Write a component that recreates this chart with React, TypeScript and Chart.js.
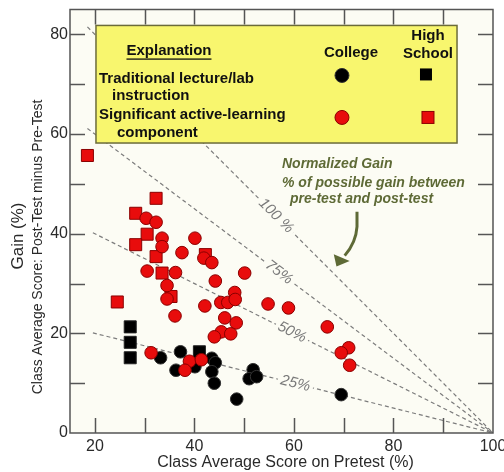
import React, { useEffect, useRef } from "react";
import { Chart, registerables } from "chart.js";

Chart.register(...registerables);

// ---------- data ----------
const collegeTraditional: [number, number][] = [
  [33.2, 15.1], [37.2, 16.3], [36.3, 12.6], [40.1, 13.3], [43.5, 15.0],
  [44.2, 14.1], [43.5, 12.3], [44.0, 10.0], [48.5, 6.8], [51.8, 12.7],
  [51.0, 10.9], [52.5, 11.3], [69.5, 7.7],
];
const highSchoolTraditional: [number, number][] = [
  [27.1, 21.3], [27.1, 18.2], [27.1, 15.1], [41.0, 16.3],
];
const collegeActive: [number, number][] = [
  [30.3, 43.1], [32.3, 42.3], [33.5, 39.1], [40.1, 39.1], [33.5, 37.4],
  [37.5, 36.2], [41.9, 35.1], [43.5, 34.2], [30.5, 32.5], [36.2, 32.2],
  [50.1, 32.1], [34.5, 29.6], [44.2, 30.5], [34.5, 26.9], [36.1, 23.5],
  [42.1, 25.5], [45.3, 26.2], [46.7, 26.2], [48.1, 28.2], [48.2, 26.8],
  [54.8, 25.9], [58.9, 25.1], [46.1, 23.1], [48.4, 22.1], [45.4, 20.3],
  [47.3, 19.9], [44.0, 19.3], [66.7, 21.3], [71.0, 17.1], [69.5, 16.1],
  [71.2, 13.6], [31.3, 16.1], [39.0, 14.4], [41.4, 14.7], [38.1, 12.6],
];
const highSchoolActive: [number, number][] = [
  [18.5, 55.7], [32.3, 47.1], [28.2, 44.1], [30.5, 39.9], [28.2, 37.8],
  [32.3, 35.4], [42.2, 35.8], [33.5, 32.1], [35.3, 27.4], [24.5, 26.3],
];

const xTicks = [20, 30, 40, 50, 60, 70, 80, 90];
const xLabels = [20, 40, 60, 80, 100];
const yTicks = [10, 20, 30, 40, 50, 60, 70, 80];
const yLabels = [0, 20, 40, 60, 80];

const gainLevels = [1, 0.75, 0.5, 0.25];
const gainLabels = ["100 %", "75%", "50%", "25%"];
const lineStartX = [18.5, 18.5, 19.6, 19.6];
const labelX = [56.4, 57, 59.6, 60.3];

const X_MIN = 15;
const X_MAX = 100;
const Y_MIN = 0;
const Y_MAX = 85;

// ---------- styles ----------
const FONT = "'Liberation Sans', Arial, sans-serif";
const PLOT_BG = "#fcfcf4";
const AXIS = "#555555";
const RED = "#e80c0c";
const RED_BORDER = "#8a0000";
const OLIVE = "#5e6a36";
const LEGEND_BG = "#f8f66e";

const toPts = (arr: [number, number][]) => arr.map(([x, y]) => ({ x, y }));

const customPlugin = {
  id: "custom",
  beforeDraw(chart: any) {
    const { ctx, chartArea: a } = chart;
    ctx.save();
    ctx.fillStyle = "#ffffff";
    ctx.fillRect(0, 0, chart.width, chart.height);
    ctx.fillStyle = PLOT_BG;
    ctx.fillRect(a.left, a.top, a.right - a.left, a.bottom - a.top);
    ctx.restore();
  },
  afterDatasetsDraw(chart: any) {
    const { ctx } = chart;
    const xs = chart.scales.x;
    const ys = chart.scales.y;
    const X = (v: number) => xs.getPixelForValue(v);
    const Y = (v: number) => ys.getPixelForValue(v);

    // labels on normalized gain lines
    ctx.save();
    ctx.font = `italic 15px ${FONT}`;
    gainLevels.forEach((g, i) => {
      const lx = labelX[i];
      const px = X(lx);
      const py = Y(g * (100 - lx));
      const ang = Math.atan2(Y(0) - py, X(100) - px);
      const w = ctx.measureText(gainLabels[i]).width;
      ctx.save();
      ctx.translate(px, py);
      ctx.rotate(ang);
      ctx.fillStyle = PLOT_BG;
      ctx.fillRect(-w / 2 - 3, -8, w + 6, 16);
      ctx.fillStyle = "#7a7a7a";
      ctx.textAlign = "center";
      ctx.textBaseline = "middle";
      ctx.fillText(gainLabels[i], 0, 0);
      ctx.restore();
    });
    ctx.restore();

    // legend box
    const bl = X(20.22), br = X(92.77), bt = Y(81.8), bb = Y(58.2);
    ctx.save();
    ctx.fillStyle = LEGEND_BG;
    ctx.fillRect(bl, bt, br - bl, bb - bt);
    ctx.strokeStyle = "#6b6b3a";
    ctx.lineWidth = 1.5;
    ctx.strokeRect(bl, bt, br - bl, bb - bt);

    ctx.fillStyle = "#111111";
    ctx.textBaseline = "middle";
    ctx.font = `bold 15px ${FONT}`;
    ctx.textAlign = "center";
    ctx.fillText("Explanation", bl + 73, bt + 25);
    const ew = ctx.measureText("Explanation").width;
    ctx.fillRect(bl + 73 - ew / 2, bt + 33, ew, 1.3);
    ctx.fillText("College", bl + 255, bt + 27);
    ctx.fillText("High", bl + 332, bt + 10);
    ctx.fillText("School", bl + 332, bt + 28);
    ctx.textAlign = "left";
    ctx.fillText("Traditional lecture/lab", bl + 3, bt + 53);
    ctx.fillText("instruction", bl + 16, bt + 70);
    ctx.fillText("Significant active-learning", bl + 3, bt + 89);
    ctx.fillText("component", bl + 21, bt + 107);

    // legend markers
    ctx.lineWidth = 1;
    ctx.beginPath();
    ctx.arc(bl + 246, bt + 50, 7, 0, Math.PI * 2);
    ctx.fillStyle = "#000000";
    ctx.fill();
    ctx.strokeStyle = "#333333";
    ctx.stroke();
    ctx.fillRect(bl + 324, bt + 43, 12, 12);
    ctx.beginPath();
    ctx.arc(bl + 246, bt + 92, 7, 0, Math.PI * 2);
    ctx.fillStyle = RED;
    ctx.fill();
    ctx.strokeStyle = RED_BORDER;
    ctx.stroke();
    ctx.fillRect(bl + 326, bt + 86, 12, 12);
    ctx.strokeRect(bl + 326, bt + 86, 12, 12);
    ctx.restore();

    // annotation
    ctx.save();
    ctx.fillStyle = OLIVE;
    ctx.font = `bold italic 14px ${FONT}`;
    ctx.textAlign = "left";
    ctx.textBaseline = "middle";
    ctx.fillText("Normalized Gain", X(57.6), Y(54.0));
    ctx.fillText("% of possible gain between", X(57.6), Y(50.2));
    ctx.fillText("pre-test and post-test", X(59.2), Y(47.0));

    ctx.strokeStyle = OLIVE;
    ctx.lineWidth = 3;
    ctx.beginPath();
    ctx.moveTo(X(72.67), Y(44.4));
    ctx.lineTo(X(72.67), Y(41.4));
    ctx.quadraticCurveTo(X(72.47), Y(38.2), X(70.2), Y(35.6));
    ctx.stroke();
    ctx.beginPath();
    ctx.moveTo(X(68.55), Y(33.4));
    ctx.lineTo(X(68.0), Y(35.9));
    ctx.lineTo(X(71.2), Y(34.5));
    ctx.closePath();
    ctx.fill();
    ctx.restore();
  },
  afterDraw(chart: any) {
    const { ctx, chartArea: a } = chart;
    const xs = chart.scales.x;
    const ys = chart.scales.y;
    ctx.save();
    ctx.strokeStyle = AXIS;
    ctx.lineWidth = 1.5;
    ctx.strokeRect(a.left, a.top, a.right - a.left, a.bottom - a.top);
    const TL = 15;
    ctx.beginPath();
    xTicks.forEach((v) => {
      const p = Math.round(xs.getPixelForValue(v)) + 0.5;
      ctx.moveTo(p, a.bottom);
      ctx.lineTo(p, a.bottom - TL);
      ctx.moveTo(p, a.top);
      ctx.lineTo(p, a.top + TL);
    });
    yTicks.forEach((v) => {
      const p = Math.round(ys.getPixelForValue(v)) + 0.5;
      ctx.moveTo(a.left, p);
      ctx.lineTo(a.left + TL, p);
      ctx.moveTo(a.right, p);
      ctx.lineTo(a.right - TL, p);
    });
    ctx.stroke();

    ctx.fillStyle = "#2a2a2a";
    ctx.font = `16px ${FONT}`;
    ctx.textBaseline = "middle";
    ctx.textAlign = "center";
    xLabels.forEach((v) => {
      ctx.fillText(String(v), xs.getPixelForValue(v), a.bottom + 14);
    });
    ctx.textAlign = "right";
    yLabels.forEach((v) => {
      ctx.fillText(String(v), a.left - 2, ys.getPixelForValue(v));
    });

    // x title
    ctx.textAlign = "center";
    ctx.font = `16px ${FONT}`;
    ctx.fillText("Class Average Score on Pretest (%)", (a.left + a.right) / 2 + 4, a.bottom + 30);

    // y titles
    ctx.save();
    ctx.translate(18, 236);
    ctx.rotate(-Math.PI / 2);
    ctx.font = `17px ${FONT}`;
    ctx.fillText("Gain (%)", 0, 0);
    ctx.restore();
    ctx.save();
    ctx.translate(38, 247);
    ctx.rotate(-Math.PI / 2);
    ctx.font = `14px ${FONT}`;
    ctx.fillText("Class Average Score: Post-Test minus Pre-Test", 0, 0);
    ctx.restore();
    ctx.restore();
  },
};

export default function App() {
  const ref = useRef<HTMLCanvasElement | null>(null);

  useEffect(() => {
    document.body.style.margin = "0";
    if (!ref.current) return;

    const lineSets = gainLevels.map((g, i) => ({
      type: "line" as const,
      label: gainLabels[i],
      data: [
        { x: lineStartX[i], y: g * (100 - lineStartX[i]) },
        { x: 100, y: 0 },
      ],
      showLine: true,
      borderColor: "#7c7c7c",
      borderWidth: 1.2,
      borderDash: [4, 3],
      pointRadius: 0,
      fill: false,
      order: 10,
    }));

    const chart = new Chart(ref.current, {
      type: "scatter",
      data: {
        datasets: [
          ...lineSets,
          {
            label: "College traditional",
            data: toPts(collegeTraditional),
            pointStyle: "circle",
            pointRadius: 6.3,
            backgroundColor: "#000000",
            borderColor: "#333333",
            borderWidth: 1,
            order: 4,
          },
          {
            label: "High school traditional",
            data: toPts(highSchoolTraditional),
            pointStyle: "rect",
            pointRadius: 8.5,
            backgroundColor: "#000000",
            borderColor: "#222222",
            borderWidth: 1,
            order: 3,
          },
          {
            label: "High school active",
            data: toPts(highSchoolActive),
            pointStyle: "rect",
            pointRadius: 8.5,
            backgroundColor: RED,
            borderColor: RED_BORDER,
            borderWidth: 1,
            order: 2,
          },
          {
            label: "College active",
            data: toPts(collegeActive),
            pointStyle: "circle",
            pointRadius: 6.3,
            backgroundColor: RED,
            borderColor: RED_BORDER,
            borderWidth: 1,
            order: 1,
          },
        ] as any,
      },
      options: {
        animation: false,
        responsive: false,
        maintainAspectRatio: false,
        layout: { padding: { left: 70, right: 11, top: 8, bottom: 39 } },
        plugins: {
          legend: { display: false },
          tooltip: { enabled: false },
        },
        scales: {
          x: { type: "linear", min: X_MIN, max: X_MAX, display: false },
          y: { type: "linear", min: Y_MIN, max: Y_MAX, display: false },
        },
      },
      plugins: [customPlugin],
    });

    return () => chart.destroy();
  }, []);

  return (
    <div style={{ width: 504, height: 472 }}>
      <canvas ref={ref} width={504} height={472} style={{ display: "block" }} />
    </div>
  );
}
